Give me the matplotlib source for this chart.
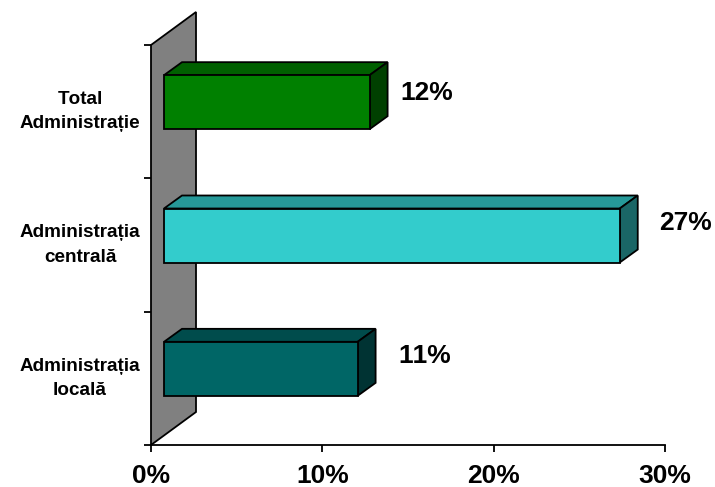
import matplotlib
matplotlib.use("Agg")
import matplotlib.pyplot as plt
from matplotlib.patches import Polygon
from matplotlib.transforms import blended_transform_factory

plt.rcParams['font.family'] = ['Liberation Sans', 'DejaVu Sans']
plt.rcParams['font.weight'] = 'bold'
plt.rcParams['text.kerning_factor'] = 6

# ===== Data (bottom to top) =====
categories = ["Administrația\nlocală", "Administrația\ncentrală", "Total\nAdministrație"]
values = [11.3, 26.6, 12.0]
value_labels = ["11%", "27%", "12%"]
x_ticks = [0, 10, 20, 30]
x_tick_labels = ["0%", "10%", "20%", "30%"]

# ===== Style =====
front_colors = ["#006666", "#33CCCC", "#008000"]
top_colors = ["#004C4C", "#269999", "#006000"]
side_colors = ["#003333", "#1A6666", "#004000"]
WALL_COLOR = "#808080"
label_offsets = [(41, 13), (39, 12), (31, 9)]  # px from bar front-right / centre

# ===== Figure =====
W, H = 715, 487
fig = plt.figure(figsize=(W / 100, H / 100), dpi=100)
ax = fig.add_axes([151 / W, (H - 445) / H, 514 / W, 400 / H])
ax.set_xlim(0, 30)
ax.set_ylim(0, 3)

# pixel sizes in data units
px = 30 / 514
py = 3 / 400
dx, dy = 45 * px, 33 * py      # depth of the wall
bx, by = 18 * px, 13 * py      # depth of a bar
inset = 13 * px                # bar starts this far in from the axis
shift = 9.5 * py               # bars sit below the slot centre
bar_h = 54 * py

# ===== Wall =====
ax.add_patch(Polygon([(0, 0), (dx, dy), (dx, 3 + dy), (0, 3)], closed=True,
                     facecolor=WALL_COLOR, edgecolor="black", linewidth=1.3,
                     clip_on=False, zorder=1))

# ===== Bars =====
for i, val in enumerate(values):
    yc = i + 0.5 + shift
    x0, x1 = inset, inset + val
    y0, y1 = yc - bar_h / 2, yc + bar_h / 2
    ax.barh(yc, val, height=bar_h, left=x0, color=front_colors[i],
            edgecolor="black", linewidth=1.3, zorder=4)
    ax.add_patch(Polygon([(x0, y1), (x0 + bx, y1 + by), (x1 + bx, y1 + by), (x1, y1)],
                         facecolor=top_colors[i], edgecolor="black", linewidth=1.3,
                         zorder=3))
    ax.add_patch(Polygon([(x1, y0), (x1 + bx, y0 + by), (x1 + bx, y1 + by), (x1, y1)],
                         facecolor=side_colors[i], edgecolor="black", linewidth=1.3,
                         zorder=3))
    off_x, off_y = label_offsets[i]
    ax.text(x1 + off_x * px, yc + off_y * py, value_labels[i], fontsize=19,
            fontweight="bold", ha="left", va="center", color="black", clip_on=False)

# ===== Axes =====
for name in ["top", "right", "left"]:
    ax.spines[name].set_visible(False)
ax.spines["bottom"].set_linewidth(1.3)
ax.patch.set_alpha(0)

ax.set_xticks(x_ticks)
ax.set_xticklabels(x_tick_labels, fontsize=19, fontweight="bold")
ax.tick_params(axis="x", length=5, width=1.3, pad=9)
ax.set_yticks(range(4))
ax.set_yticklabels([])
ax.tick_params(axis="y", length=5, width=1.3)

trans = blended_transform_factory(fig.transFigure, ax.transData)
for i, cat in enumerate(categories):
    ax.text(80 / W, i + 0.5, cat, transform=trans, fontsize=13.6, fontweight="bold",
            ha="center", va="center", linespacing=1.58, clip_on=False)

fig.savefig("out.png", dpi=100)
